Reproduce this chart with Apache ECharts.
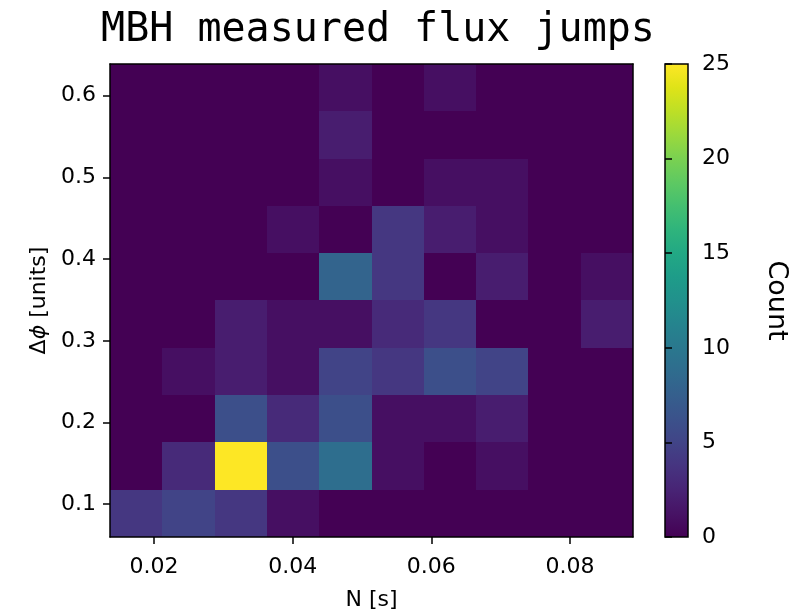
<!DOCTYPE html>
<html>
<head>
<meta charset="utf-8">
<script src="https://cdn.jsdelivr.net/npm/echarts@6/dist/echarts.min.js"></script>
<style>
  html, body { margin: 0; padding: 0; background: #ffffff; }
  #chart { width: 809px; height: 611px; }
</style>
</head>
<body>
<div id="chart"></div>
<script>
// Histogram extent and bin count
const xRange = [0.01365, 0.08909];
const yRange = [0.0599, 0.6388];
const nBins = 10;

// Tick labels
const xTicks = [0.02, 0.04, 0.06, 0.08];
const yTicks = [0.1, 0.2, 0.3, 0.4, 0.5, 0.6];
const countMax = 25;
const countStep = 5;

// Counts per bin, rows from the lowest Δϕ bin upward, columns from the lowest N bin
const counts = [
  [4, 5, 4, 1, 0, 0, 0, 0, 0, 0],
  [0, 3, 25, 6, 9, 1, 0, 1, 0, 0],
  [0, 0, 6, 3, 6, 1, 1, 2, 0, 0],
  [0, 1, 2, 1, 5, 4, 6, 5, 0, 0],
  [0, 0, 2, 1, 1, 3, 4, 0, 0, 2],
  [0, 0, 0, 0, 8, 4, 0, 2, 0, 1],
  [0, 0, 0, 1, 0, 4, 2, 1, 0, 0],
  [0, 0, 0, 0, 1, 0, 1, 1, 0, 0],
  [0, 0, 0, 0, 2, 0, 0, 0, 0, 0],
  [0, 0, 0, 0, 1, 0, 1, 0, 0, 0]
];

// viridis colormap
const viridis = [
  '#440154', '#471365', '#482475', '#463480', '#414487', '#3b528b', '#355f8d',
  '#2f6c8e', '#2a788e', '#25848e', '#21918c', '#1e9c89', '#22a884', '#2fb47c',
  '#44bf70', '#5ec962', '#7ad151', '#9bd93c', '#bddf26', '#dfe318', '#fde725'
];

const dx = (xRange[1] - xRange[0]) / nBins;
const dy = (yRange[1] - yRange[0]) / nBins;
const cells = [];
counts.forEach((row, r) => {
  row.forEach((v, c) => {
    cells.push([
      xRange[0] + c * dx, yRange[0] + r * dy,
      xRange[0] + (c + 1) * dx, yRange[0] + (r + 1) * dy,
      v
    ]);
  });
});

const FONT = 'DejaVu Sans';
const BLACK = '#000000';
const spine = { show: true, onZero: false, lineStyle: { color: BLACK, width: 1.5 } };
const tick = { show: true, length: 7, inside: false, lineStyle: { color: BLACK, width: 1.5 } };
const labelStyle = { fontFamily: FONT, fontSize: 22, color: BLACK };

function cellItem(params, api) {
  const a = api.coord([api.value(0), api.value(1)]);
  const b = api.coord([api.value(2), api.value(3)]);
  const x0 = Math.round(a[0]), x1 = Math.round(b[0]);
  const y0 = Math.round(b[1]), y1 = Math.round(a[1]);
  return {
    type: 'rect',
    shape: { x: x0, y: y0, width: x1 - x0, height: y1 - y0 },
    style: { fill: api.visual('color') }
  };
}

function colorbarItem(params, api) {
  const a = api.coord([api.value(0), api.value(1)]);
  const b = api.coord([api.value(2), api.value(3)]);
  const stops = viridis.map((c, i) => ({ offset: i / (viridis.length - 1), color: c }));
  const shape = { x: a[0], y: b[1], width: b[0] - a[0], height: a[1] - b[1] };
  return {
    type: 'group',
    children: [
      {
        type: 'rect',
        shape: shape,
        style: {
          fill: { type: 'linear', x: 0, y: 1, x2: 0, y2: 0, colorStops: stops }
        }
      },
      {
        type: 'rect',
        shape: shape,
        style: { fill: null, stroke: BLACK, lineWidth: 1.5 }
      }
    ]
  };
}

const chart = echarts.init(document.getElementById('chart'), null, { renderer: 'canvas' });
chart.setOption({
  backgroundColor: '#ffffff',
  animation: false,
  title: {
    text: 'MBH measured flux jumps',
    left: 373,
    top: 6,
    textAlign: 'center',
    textStyle: { fontFamily: 'DejaVu Sans Mono', fontSize: 40, fontWeight: 'normal', color: BLACK }
  },
  grid: [
    { left: 110, top: 64, width: 523, height: 473, containLabel: false, outerBoundsMode: 'none' },
    { left: 665, top: 64, width: 23, height: 473, containLabel: false, outerBoundsMode: 'none' }
  ],
  visualMap: {
    type: 'continuous',
    show: false,
    min: 0,
    max: countMax,
    dimension: 4,
    seriesIndex: 0,
    inRange: { color: viridis }
  },
  xAxis: [
    {
      gridIndex: 0, type: 'value', min: xRange[0], max: xRange[1], position: 'bottom', z: 10,
      axisLine: spine,
      axisTick: Object.assign({ customValues: xTicks }, tick),
      axisLabel: Object.assign({ customValues: xTicks, margin: 19 }, labelStyle),
      splitLine: { show: false },
      name: 'N [s]', nameLocation: 'middle', nameGap: 52,
      nameTextStyle: labelStyle
    },
    {
      gridIndex: 0, type: 'value', min: xRange[0], max: xRange[1], position: 'top', z: 10,
      axisLine: spine, axisTick: { show: false }, axisLabel: { show: false }, splitLine: { show: false }
    },
    { gridIndex: 1, type: 'value', min: 0, max: 1, show: false }
  ],
  yAxis: [
    {
      gridIndex: 0, type: 'value', min: yRange[0], max: yRange[1], position: 'left', z: 10,
      axisLine: spine,
      axisTick: Object.assign({ customValues: yTicks }, tick),
      axisLabel: Object.assign({ customValues: yTicks, margin: 14 }, labelStyle),
      splitLine: { show: false },
      name: '{n|Δ}{i|ϕ}{n| [units]}', nameLocation: 'middle', nameGap: 60,
      nameTextStyle: Object.assign({
        rich: {
          n: { fontFamily: FONT, fontSize: 22, color: BLACK },
          i: { fontFamily: FONT, fontSize: 22, fontStyle: 'italic', color: BLACK }
        }
      }, labelStyle)
    },
    {
      gridIndex: 0, type: 'value', min: yRange[0], max: yRange[1], position: 'right', z: 10,
      axisLine: spine, axisTick: { show: false }, axisLabel: { show: false }, splitLine: { show: false }
    },
    {
      gridIndex: 1, type: 'value', min: 0, max: countMax, interval: countStep, position: 'right', z: 10,
      axisLine: { show: false },
      axisTick: tick,
      axisLabel: Object.assign({ margin: 14 }, labelStyle),
      splitLine: { show: false },
      name: 'Count', nameLocation: 'middle', nameGap: 75, nameRotate: -90,
      nameTextStyle: Object.assign({}, labelStyle, { fontSize: 27 })
    }
  ],
  series: [
    {
      type: 'custom',
      xAxisIndex: 0, yAxisIndex: 0,
      renderItem: cellItem,
      encode: { x: [0, 2], y: [1, 3] },
      data: cells,
      clip: true,
      silent: true
    },
    {
      type: 'custom',
      xAxisIndex: 2, yAxisIndex: 2,
      renderItem: colorbarItem,
      encode: { x: [0, 2], y: [1, 3] },
      data: [[0, 0, 1, countMax]],
      silent: true
    }
  ]
});
</script>
</body>
</html>
